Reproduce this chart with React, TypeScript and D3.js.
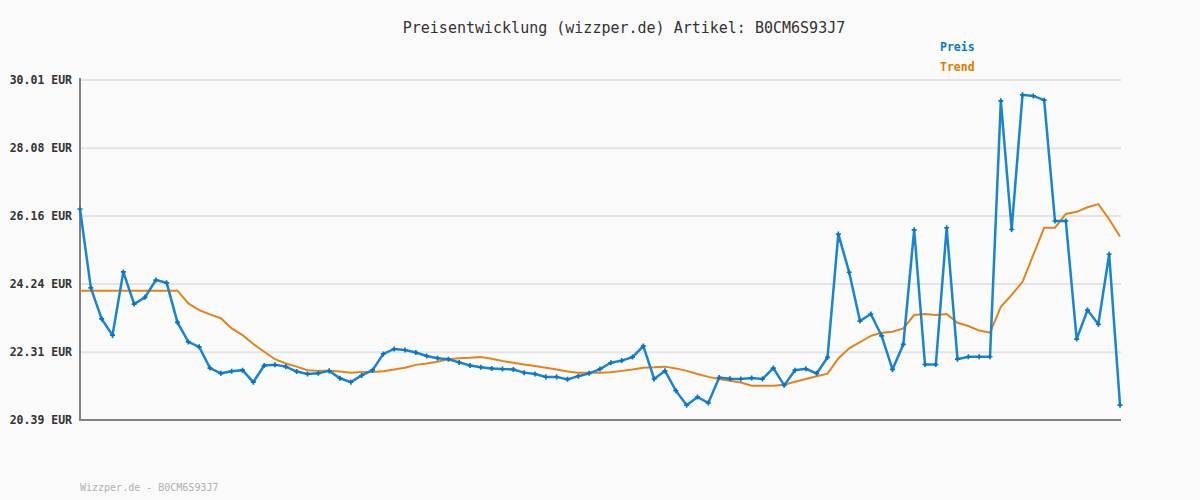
import React, { useEffect, useRef } from 'react';
import * as d3 from 'd3';

const priceValues = [
  26.36, 24.13, 23.25, 22.79, 24.58, 23.67, 23.86, 24.35, 24.27, 23.15,
  22.6, 22.46, 21.86, 21.71, 21.77, 21.8, 21.46, 21.93, 21.95, 21.9,
  21.76, 21.69, 21.71, 21.78, 21.57, 21.46, 21.65, 21.8, 22.26, 22.4,
  22.37, 22.3, 22.2, 22.14, 22.11, 22.02, 21.93, 21.88, 21.85, 21.83,
  21.82, 21.73, 21.69, 21.61, 21.61, 21.54, 21.63, 21.71, 21.83, 22.01,
  22.07, 22.17, 22.48, 21.55, 21.78, 21.22, 20.81, 21.04, 20.87, 21.59,
  21.56, 21.55, 21.58, 21.55, 21.86, 21.37, 21.8, 21.84, 21.71, 22.16,
  25.65, 24.57, 23.19, 23.39, 22.77, 21.82, 22.53, 25.77, 21.96, 21.96,
  25.83, 22.11, 22.18, 22.18, 22.18, 29.42, 25.78, 29.59, 29.56, 29.44,
  26.02, 26.02, 22.68, 23.5, 23.1, 25.08, 20.81,
];

const trendValues = [
  24.05, 24.05, 24.05, 24.05, 24.05, 24.05, 24.05, 24.05, 24.05, 24.05,
  23.69, 23.5, 23.38, 23.27, 22.98, 22.79, 22.54, 22.32, 22.11, 21.99,
  21.9, 21.8, 21.78, 21.78, 21.76, 21.73, 21.75, 21.75, 21.77, 21.82,
  21.87, 21.95, 21.99, 22.04, 22.11, 22.14, 22.15, 22.17, 22.12, 22.06,
  22.01, 21.96, 21.92, 21.87, 21.82, 21.76, 21.73, 21.73, 21.73, 21.74,
  21.78, 21.82, 21.87, 21.88, 21.9, 21.85, 21.78, 21.69, 21.61, 21.55,
  21.5, 21.45, 21.36, 21.36, 21.36, 21.39, 21.47, 21.55, 21.63, 21.7,
  22.13, 22.42, 22.59, 22.77, 22.86, 22.89, 22.98, 23.36, 23.39, 23.36,
  23.39, 23.14, 23.05, 22.92, 22.86, 23.59, 23.93, 24.3, 25.06, 25.83,
  25.83, 26.22, 26.28, 26.41, 26.5, 26.07, 25.58,
];

const yTicks = [20.39, 22.31, 24.24, 26.16, 28.08, 30.01];

const titleText = 'Preisentwicklung (wizzper.de) Artikel: B0CM6S93J7';
const footerText = 'Wizzper.de - B0CM6S93J7';
const legendItems = [
  { label: 'Preis', color: '#0a78c8' },
  { label: 'Trend', color: '#e07b00' },
];

const W = 1200;
const H = 500;
const FONT = '"DejaVu Sans Mono", "Liberation Mono", monospace';

export default function App() {
  const svgRef = useRef<SVGSVGElement>(null);

  useEffect(() => {
    if (!svgRef.current) return;
    const svg = d3.select(svgRef.current);
    svg.selectAll('*').remove();

    const left = 80;
    const right = 1120;
    const top = 80;
    const bottom = 420;

    const x = d3.scaleLinear()
      .domain([0, priceValues.length - 1])
      .range([left, right]);

    const y = d3.scaleLinear()
      .domain([20.39, 30.01])
      .range([bottom, top]);

    svg.append('rect')
      .attr('width', W)
      .attr('height', H)
      .attr('fill', '#fafafa');

    // grid lines
    svg.append('g')
      .selectAll('line')
      .data(yTicks.slice(1))
      .join('line')
      .attr('x1', left)
      .attr('x2', right + 1)
      .attr('y1', d => y(d))
      .attr('y2', d => y(d))
      .attr('stroke', '#e4e4e4')
      .attr('stroke-width', 2);

    // y labels
    svg.append('g')
      .selectAll('text')
      .data(yTicks)
      .join('text')
      .attr('x', 72)
      .attr('y', d => y(d))
      .attr('dy', '0.35em')
      .attr('text-anchor', 'end')
      .attr('font-family', FONT)
      .attr('font-weight', 'bold')
      .attr('font-size', 11.5)
      .attr('fill', '#333')
      .text(d => `${d.toFixed(2)} EUR`);

    // axes
    svg.append('line')
      .attr('x1', left).attr('x2', left)
      .attr('y1', top - 2).attr('y2', bottom + 1)
      .attr('stroke', '#808080').attr('stroke-width', 2);
    svg.append('line')
      .attr('x1', left - 1).attr('x2', right + 1)
      .attr('y1', bottom).attr('y2', bottom)
      .attr('stroke', '#808080').attr('stroke-width', 2);

    const line = d3.line<number>()
      .x((_, i) => x(i))
      .y(d => y(d));

    svg.append('path')
      .datum(trendValues)
      .attr('d', line)
      .attr('fill', 'none')
      .attr('stroke', '#e3841a')
      .attr('stroke-width', 2);

    svg.append('path')
      .datum(priceValues)
      .attr('d', line)
      .attr('fill', 'none')
      .attr('stroke', '#1a84d0')
      .attr('stroke-width', 2.5);

    // small plus markers
    const cross = d3.symbol().type(d3.symbolCross).size(14);
    svg.append('g')
      .selectAll('path')
      .data(priceValues)
      .join('path')
      .attr('d', cross)
      .attr('transform', (d, i) => `translate(${x(i)},${y(d)})`)
      .attr('fill', '#0a74c4');

    svg.append('text')
      .attr('x', 624)
      .attr('y', 33)
      .attr('text-anchor', 'middle')
      .attr('font-family', FONT)
      .attr('font-size', 15)
      .attr('fill', '#333')
      .text(titleText);

    legendItems.forEach((item, i) => {
      svg.append('text')
        .attr('x', 940)
        .attr('y', 51 + i * 20)
        .attr('font-family', FONT)
        .attr('font-weight', 'bold')
        .attr('font-size', 11.5)
        .attr('fill', item.color)
        .text(item.label);
    });

    svg.append('text')
      .attr('x', 80)
      .attr('y', 491)
      .attr('font-family', FONT)
      .attr('font-size', 10)
      .attr('fill', '#b0b0b0')
      .text(footerText);
  }, []);

  return (
    <svg
      ref={svgRef}
      width={W}
      height={H}
      style={{ position: 'absolute', left: 0, top: 0, display: 'block' }}
    />
  );
}
